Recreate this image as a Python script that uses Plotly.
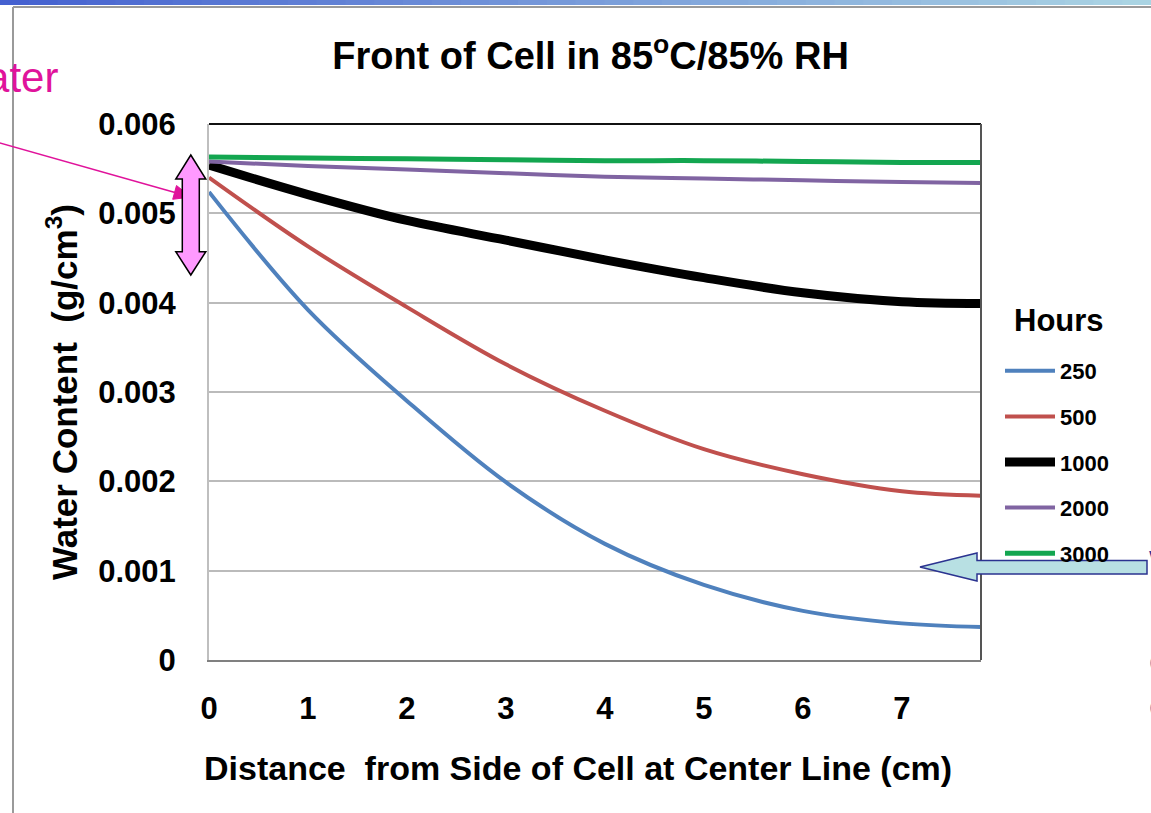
import plotly.graph_objects as go

# ---------------- data ----------------
distance_cm = [0, 1, 2, 3, 4, 5, 6, 7, 7.8]
hours = ["250", "500", "1000", "2000", "3000"]
wc_250 = [0.00524, 0.00392, 0.00290, 0.00199, 0.00130, 0.00084, 0.00055, 0.00041, 0.00037]
wc_500 = [0.00540, 0.00463, 0.00395, 0.00331, 0.00279, 0.00236, 0.00208, 0.00189, 0.00184]
wc_1000 = [0.00554, 0.00521, 0.00492, 0.00470, 0.00448, 0.00428, 0.00411, 0.00401, 0.00399]
wc_2000 = [0.00558, 0.00553, 0.00549, 0.00545, 0.00541, 0.00539, 0.00537, 0.00535, 0.00534]
wc_3000 = [0.00563, 0.00562, 0.00561, 0.00560, 0.00559, 0.00559, 0.00558, 0.00557, 0.00557]
x_ticks = [0, 1, 2, 3, 4, 5, 6, 7]
y_ticks = [0, 0.001, 0.002, 0.003, 0.004, 0.005, 0.006]
y_tick_text = ["0", "0.001", "0.002", "0.003", "0.004", "0.005", "0.006"]

series = [wc_250, wc_500, wc_1000, wc_2000, wc_3000]
colors = ["#4F81BD", "#C0504D", "#000000", "#8064A2", "#13A650"]
widths = [4, 4, 9, 4, 5]

W, H = 1151, 813
L, R, T, B = 209, 981, 124, 660


def PX(x):
    return (x - L) / (R - L)


def PY(y):
    return (B - y) / (B - T)


def poly(pts):
    return "M " + " L ".join("%f,%f" % (PX(a), PY(b)) for a, b in pts) + " Z"


FONT = "Liberation Sans"

fig = go.Figure()
for name, vals, c, w in zip(hours, series, colors, widths):
    fig.add_trace(go.Scatter(
        x=distance_cm, y=vals, name=name, mode="lines",
        line=dict(color=c, width=w, shape="spline", smoothing=1.0),
        legendgroup=name,
    ))

shapes = []
# slide top gradient bar
N = 40
c0, c1 = (68, 96, 208), (172, 214, 228)
for i in range(N):
    t = (i + 0.5) / N
    col = "rgb(%d,%d,%d)" % tuple(int(a + (b - a) * t) for a, b in zip(c0, c1))
    shapes.append(dict(type="rect", xref="paper", yref="paper",
                       x0=PX(i * W / N), x1=PX((i + 1) * W / N + 1),
                       y0=PY(5), y1=PY(-2), fillcolor=col, line=dict(width=0)))
# slide frame
shapes.append(dict(type="line", xref="paper", yref="paper", x0=PX(13), x1=PX(W + 2),
                   y0=PY(7), y1=PY(7), line=dict(color="#9A9A9A", width=2)))
shapes.append(dict(type="line", xref="paper", yref="paper", x0=PX(13), x1=PX(13),
                   y0=PY(7), y1=PY(H + 2), line=dict(color="#9A9A9A", width=2)))
# plot frame top / right
shapes.append(dict(type="line", xref="paper", yref="paper", x0=0, x1=1, y0=1, y1=1,
                   line=dict(color="#111111", width=2)))
shapes.append(dict(type="line", xref="paper", yref="paper", x0=1, x1=1, y0=0, y1=1,
                   line=dict(color="#555555", width=2)))

# magenta pointer arrow
MAG = "#E0139B"
shapes.append(dict(type="line", xref="paper", yref="paper", x0=PX(-2), y0=PY(142.5),
                   x1=PX(175), y1=PY(192.5), line=dict(color=MAG, width=1.5)))
shapes.append(dict(type="path", xref="paper", yref="paper",
                   path=poly([(191, 197), (172.7, 199.3), (176.5, 185.5)]),
                   fillcolor=MAG, line=dict(color=MAG, width=1)))

# pink double arrow
cx = 190.8
pts = [(cx, 155), (cx + 15, 179), (cx + 8.5, 179), (cx + 8.5, 251.7), (cx + 15, 251.7),
       (cx, 275), (cx - 15, 251.7), (cx - 8.5, 251.7), (cx - 8.5, 179), (cx - 15, 179)]
shapes.append(dict(type="path", xref="paper", yref="paper", path=poly(pts),
                   fillcolor="#FF99FF", line=dict(color="#000000", width=1.5)))

# light blue left arrow
pts = [(920, 567), (977, 553), (977, 560.5), (1147, 560.5), (1147, 574), (977, 574), (977, 581)]
shapes.append(dict(type="path", xref="paper", yref="paper", path=poly(pts),
                   fillcolor="#B8E0E3", line=dict(color="#2B3390", width=1.5)))

annotations = [
    dict(xref="paper", yref="paper", x=PX(60), y=PY(77), text="Water", showarrow=False,
         xanchor="right", yanchor="middle", font=dict(family=FONT, size=42, color=MAG)),
    dict(xref="paper", yref="paper", x=PX(1059), y=PY(320), text="Hours", showarrow=False,
         xanchor="center", yanchor="middle",
         font=dict(family=FONT, size=31, weight="bold", color="#000000")),
    dict(xref="paper", yref="paper", x=PX(578), y=PY(768),
         text="Distance \u00a0from Side of Cell at Center Line (cm)", showarrow=False,
         xanchor="center", yanchor="middle",
         font=dict(family=FONT, size=34, weight="bold", color="#000000")),
    dict(xref="paper", yref="paper", x=PX(62), y=PY(392), textangle=-90,
         text="Water Content \u00a0(g/cm<sup>3</sup>)", showarrow=False,
         xanchor="center", yanchor="middle",
         font=dict(family=FONT, size=35, weight="bold", color="#000000")),
]
for txt, yy, col in [("W", 560, "#2F3699"), ("I", 609, "#A0A0E0"), ("C", 662, "#2F3699"), ("C", 707, "#2F3699")]:
    annotations.append(dict(xref="paper", yref="paper", x=PX(1147), y=PY(yy), text=txt,
                            showarrow=False, xanchor="left", yanchor="middle",
                            font=dict(family=FONT, size=30, color=col)))

fig.update_layout(
    width=W, height=H,
    margin=dict(l=L, r=W - R, t=T, b=H - B, pad=0),
    paper_bgcolor="white", plot_bgcolor="white",
    font=dict(family=FONT, color="#000000"),
    title=dict(text="Front of Cell in 85<sup>o</sup>C/85% RH", x=PX(590.5), xref="paper",
               xanchor="center", y=1 - 56 / H, yanchor="middle",
               font=dict(family=FONT, size=38, weight="bold", color="#000000")),
    xaxis=dict(range=[0, 7.8], tickvals=x_ticks, showgrid=False, zeroline=False,
               showline=True, linecolor="#808080", linewidth=2, ticks="",
               ticklabelstandoff=20,
               tickfont=dict(family=FONT, size=31, weight="bold")),
    yaxis=dict(range=[0, 0.006], tickvals=y_ticks, ticktext=y_tick_text,
               showgrid=True, gridcolor="#BBBBBB", gridwidth=2, zeroline=False,
               showline=True, linecolor="#BFBFBF", linewidth=2, ticks="",
               ticklabelstandoff=25,
               tickfont=dict(family=FONT, size=31, weight="bold")),
    legend=dict(x=PX(1000), y=PY(350), xanchor="left", yanchor="top",
                bgcolor="rgba(0,0,0,0)", tracegroupgap=14, itemwidth=50,
                font=dict(family=FONT, size=22, weight="bold")),
    shapes=shapes,
    annotations=annotations,
    showlegend=True,
)

fig.write_html("out.html", config={"displayModeBar": False},
               post_script="document.body.style.margin='0';document.body.style.overflow='hidden';")
